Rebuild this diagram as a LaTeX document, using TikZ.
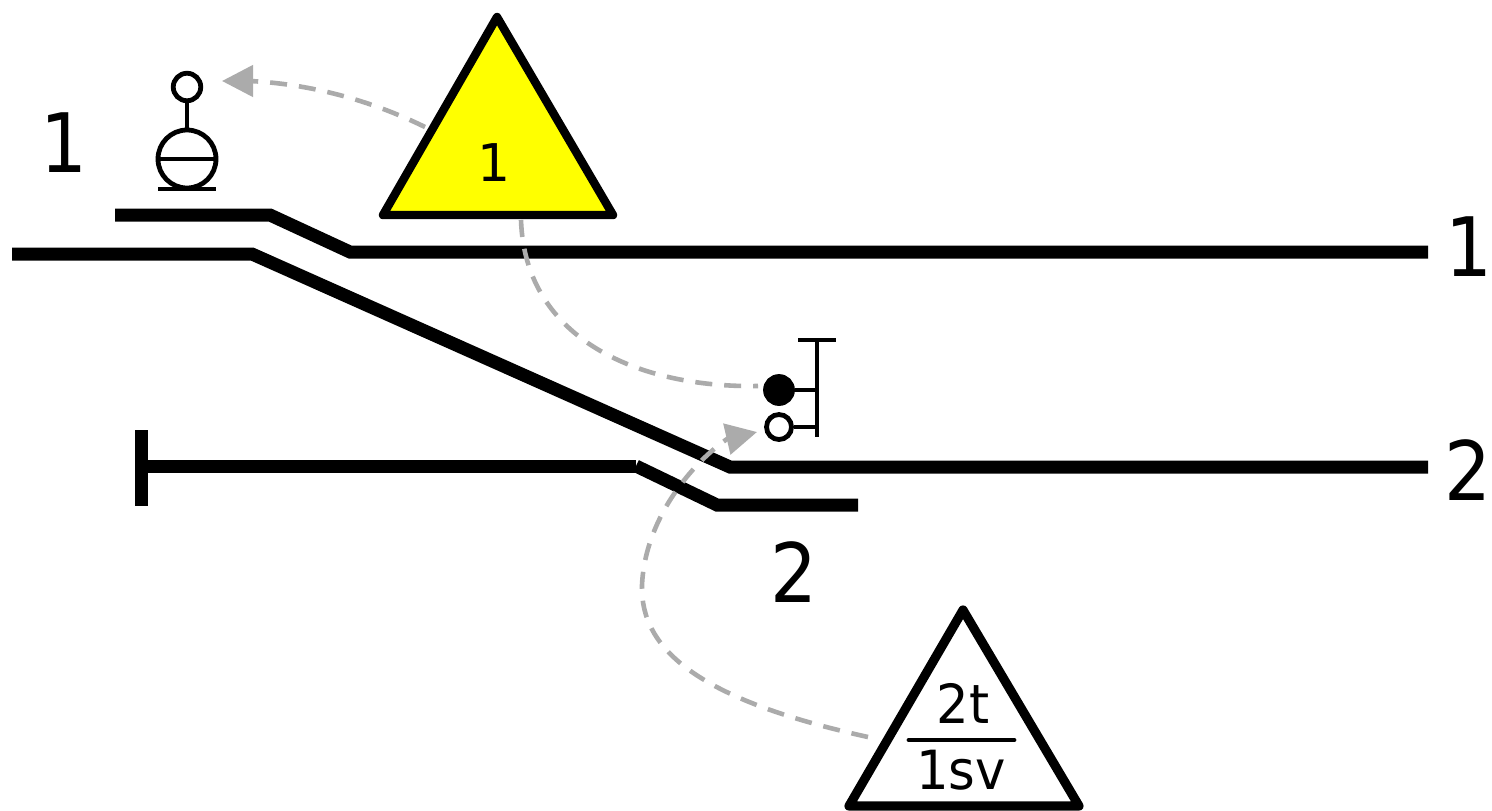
\documentclass[tikz,border=0pt]{standalone}
\usepackage{fontspec}
\setmainfont{DejaVu Sans}
\usetikzlibrary{arrows.meta}
\definecolor{conn}{gray}{0.67}
\definecolor{warn}{RGB}{255,255,0}
\tikzset{
  x=0.5pt,y=-0.5pt,
  track/.style={line width=6.5pt,line join=miter},
  sym/.style={line width=2.4pt},
  tri/.style={line width=4.2pt,line join=round},
  connplain/.style={draw=conn,line width=2.3pt,dash pattern=on 8.5pt off 6pt},
  conn/.style={connplain,-{Triangle[length=15.5pt,width=15.5pt,fill=conn]}},
  big/.style={inner sep=0pt,anchor=base,font=\fontsize{41}{41}\selectfont\addfontfeature{FakeStretch=0.9}},
  small/.style={inner sep=0pt,anchor=base,font=\fontsize{27}{27}\selectfont\addfontfeature{FakeStretch=0.95}},
}
\begin{document}
\begin{tikzpicture}
\path[use as bounding box,fill=white] (0,0) rectangle (1492,810);
% tracks
\draw[track] (115,215) -- (270,215) -- (350,252) -- (1428,252);
\draw[track] (12,254) -- (252,254) -- (730,467) -- (1428,467);
\draw[track] (147,466) -- (636,466);
\draw[track] (636,466) -- (717,505) -- (858,505);
\draw[line width=6.5pt] (141,430) -- (141,506);
% triangles
\draw[tri,fill=warn] (497,17) -- (613,215) -- (383,215) -- cycle;
\draw[tri,line width=4.6pt] (963,610) -- (1079,806) -- (849,806) -- cycle;
\draw[sym,line cap=round] (909,740) -- (1014,740);
% signal 1
\node[draw,circle,sym,fill=white,minimum size=13.75pt,inner sep=0pt] (s1) at (187,87) {};
\node[draw,circle,sym,minimum size=29pt,inner sep=0pt] (s2) at (187,159) {};
\draw[sym] (s1) -- (s2);
\draw[sym] (s2.west) -- (s2.east);
\draw[sym] (158,189) -- (216,189);
% signal 2
\node[draw,circle,sym,fill=black,minimum size=13.5pt,inner sep=0pt] (a) at (779,390) {};
\node[draw,circle,sym,fill=white,minimum size=12.5pt,inner sep=0pt] (b) at (779,427) {};
\coordinate (amast) at (817,390);
\coordinate (bmast) at (817,427);
\draw[sym] (a) -- (amast);
\draw[sym] (b) -- (bmast);
\draw[sym] (817,340) -- (817,437);
\draw[sym] (798,340) -- (836,340);
% connectors
\coordinate (c1a) at (425,127);
\coordinate (c1b) at (222,81);
\coordinate (c2a) at (521,220);
\coordinate (c2b) at (758,386);
\coordinate (c3a) at (868,737);
\coordinate (c3b) at (757,432);
\draw[conn] (c1a) .. controls (370,100) and (310,84) .. (250,81) -- (c1b);
\draw[connplain] (c2a) .. controls (525,340) and (640,388) .. (c2b);
\draw[conn] (c3a) .. controls (700,700) and (640,650) .. (642,585) .. controls (645,520) and (690,465) .. (727,439) -- (c3b);
% labels
\node[big] (l1) at (64,172) {1};
\node[big] (r1) at (1469,276) {1};
\node[big] (r2) at (1468,500) {2};
\node[big] (l2) at (794,602) {2};
\node[small,font=\fontsize{26}{26}\selectfont] (t1) at (494,181) {1};
\node[small] (t2) at (963,723) {2t};
\node[small] (t3) at (961,789) {1sv};
\end{tikzpicture}
\end{document}
